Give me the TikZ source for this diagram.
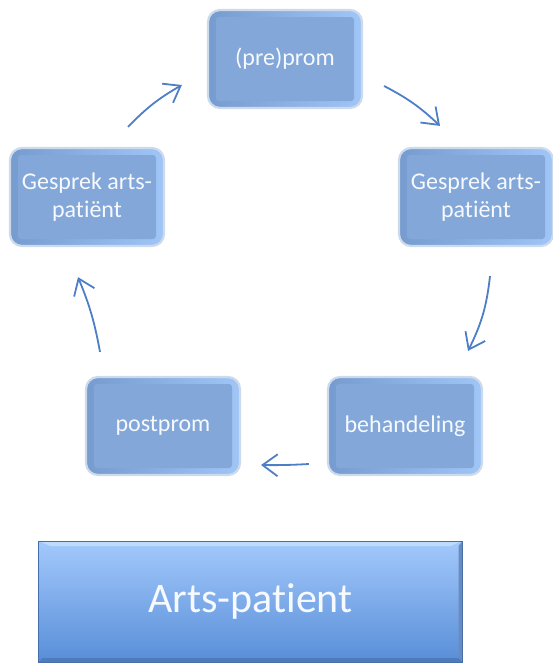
\documentclass[tikz,border=0pt]{standalone}
\usepackage{fontspec}
\setmainfont[RawFeature={-liga;-clig;-dlig;-calt}]{Carlito}
\usetikzlibrary{arrows.meta,calc,shadings}
\definecolor{boxface}{RGB}{130,167,216}
\definecolor{boxdark}{RGB}{118,155,206}
\definecolor{boxlight}{RGB}{160,198,248}
\definecolor{halo}{RGB}{205,218,236}
\definecolor{arrowblue}{RGB}{78,126,198}
\definecolor{bigtop}{RGB}{163,201,252}
\definecolor{bigbot}{RGB}{88,142,216}
\definecolor{bigedge}{RGB}{70,110,170}
\definecolor{biglight}{RGB}{190,218,253}
\definecolor{txt}{RGB}{246,249,253}
\tikzset{
  stagebox/.style={rounded corners=12pt, minimum width=154pt, minimum height=98pt,
    draw=halo, line width=2.2pt, left color=boxdark, right color=boxlight,
    text=txt, align=center, font=\fontsize{24}{27.5}\selectfont,
    path picture={\fill[boxface, rounded corners=3pt]
      ([shift={(8pt,-7pt)}]path picture bounding box.north west) rectangle
      ([shift={(-8pt,7pt)}]path picture bounding box.south east);}},
  bigbox/.style={minimum width=424pt, minimum height=121pt,
    top color=bigtop, bottom color=bigbot, draw=bigedge, line width=1pt,
    text=txt, font=\fontsize{42}{48}\selectfont,
    path picture={
      \fill[biglight] (path picture bounding box.north west) --
        (path picture bounding box.north east) --
        ([shift={(-12pt,-5pt)}]path picture bounding box.north east) --
        ([shift={(12pt,-5pt)}]path picture bounding box.north west) -- cycle;
      \fill[bigedge!80] (path picture bounding box.north east) --
        (path picture bounding box.south east) --
        ([shift={(-4pt,4pt)}]path picture bounding box.south east) --
        ([shift={(-4pt,-5pt)}]path picture bounding box.north east) -- cycle;
      \fill[bigedge!60!bigbot] (path picture bounding box.south west) --
        (path picture bounding box.south east) --
        ([shift={(-4pt,4pt)}]path picture bounding box.south east) --
        ([shift={(4pt,4pt)}]path picture bounding box.south west) -- cycle;}},
  cyc/.style={draw=arrowblue, line width=1.8pt, -{Straight Barb[length=15pt,width=22pt]}}
}
\begin{document}
\begin{tikzpicture}[x=1pt,y=-1pt]
\useasboundingbox (0,0) rectangle (553,664);
\node[stagebox] (prom) at (285,59) {(pre)prom};
\node[stagebox] (gr) at (476,197) {Gesprek arts-\\patiënt};
\node[stagebox] (gl) at (87,197) {Gesprek arts-\\patiënt};
\node[stagebox] (post) at (163,426) {postprom};
\node[stagebox] (beh) at (405,426) {behandeling};
\node[bigbox] (ap) at (250.5,601.5) {Arts-patient};

\draw[cyc] ($(gl.north)+(41,-20)$) to[bend left=8] ($(prom.west)+(-25,26)$);
\draw[cyc] ($(prom.east)+(21,27)$) to[bend left=8] ($(gr.north)+(-36,-21)$);
\draw[cyc] ($(gr.south)+(14,29)$) to[bend left=10] ($(beh.north)+(63,-25)$);
\draw[cyc] ($(beh.west)+(-18,38)$) to[bend left=2] ($(post.east)+(20,39)$);
\draw[cyc] ($(post.north)+(-63,-24)$) to[bend right=6] ($(gl.south)+(-9,30)$);
\end{tikzpicture}
\end{document}
